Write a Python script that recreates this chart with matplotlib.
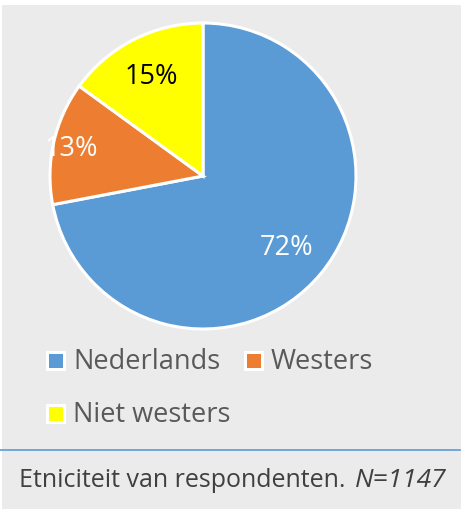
import matplotlib
matplotlib.use("Agg")
import matplotlib.pyplot as plt
from matplotlib.patches import Rectangle
from matplotlib.lines import Line2D
import numpy as np

categories = ["Nederlands", "Westers", "Niet westers"]
shares = [72, 13, 15]
colors = ["#5B9BD5", "#ED7D31", "#FFFF00"]
label_colors = ["white", "white", "black"]
label_radius = [0.71, 0.88, 0.745]
caption_main = "Etniciteit van respondenten. "
caption_n = "N=1147"

W, H = 462, 510
fig = plt.figure(figsize=(W / 100, H / 100), dpi=100)
fig.patch.set_facecolor("white")

FONT = ["Open Sans", "DejaVu Sans"]
TEXT_GREY = "#595959"

def px(x, y):
    return x / W, 1 - y / H

# panel background
fig.add_artist(Rectangle(px(2, 510), (W - 3) / W, 504 / H,
                         transform=fig.transFigure, facecolor="#EBEBEB",
                         edgecolor="none", zorder=0))

# pie
cx, cy, r = 203, 177, 153
ax = fig.add_axes([(cx - r) / W, (H - cy - r) / H, 2 * r / W, 2 * r / H])
ax.set_facecolor("none")
wedges, _ = ax.pie(shares, colors=colors, startangle=90, counterclock=False,
                   radius=1.0,
                   wedgeprops=dict(edgecolor="white", linewidth=2.2))
ax.set_xlim(-1, 1)
ax.set_ylim(-1, 1)
ax.set_aspect("equal")
ax.axis("off")

for w, v, c, d in zip(wedges, shares, label_colors, label_radius):
    ang = np.deg2rad((w.theta1 + w.theta2) / 2)
    ax.text(d * np.cos(ang), d * np.sin(ang) - 0.01, f"{v}%", color=c,
            ha="center", va="center", fontsize=19.5, family=FONT,
            clip_on=False)

# legend
legend_pos = [(46, 362), (244, 362), (46, 415)]
for (lx, ly), name, col in zip(legend_pos, categories, colors):
    fig.add_artist(Rectangle(px(lx, ly + 10), 20 / W, 20 / H,
                             transform=fig.transFigure, facecolor="white",
                             edgecolor="none"))
    fig.add_artist(Rectangle(px(lx + 3, ly + 7), 14 / W, 14 / H,
                             transform=fig.transFigure, facecolor=col,
                             edgecolor="none"))
    tx, ty = px(lx + 27, ly)
    fig.text(tx, ty, name, color=TEXT_GREY, fontsize=19.5, family=FONT,
             ha="left", va="center")

# caption separator
fig.add_artist(Line2D([0, 460 / W], [1 - 451 / H] * 2, transform=fig.transFigure,
                      color="#5B9BD5", linewidth=1.2))

# caption
tx, ty = px(19, 481)
t1 = fig.text(tx, ty, caption_main, color="#404040", fontsize=18,
              family=FONT, ha="left", va="center")
fig.canvas.draw()
bb = t1.get_window_extent()
fig.text((bb.x1 + 3) / W, ty, caption_n, color="#404040", fontsize=19,
         family=FONT, style="italic", ha="left", va="center")

fig.savefig("out.png", dpi=100, facecolor=fig.get_facecolor())
